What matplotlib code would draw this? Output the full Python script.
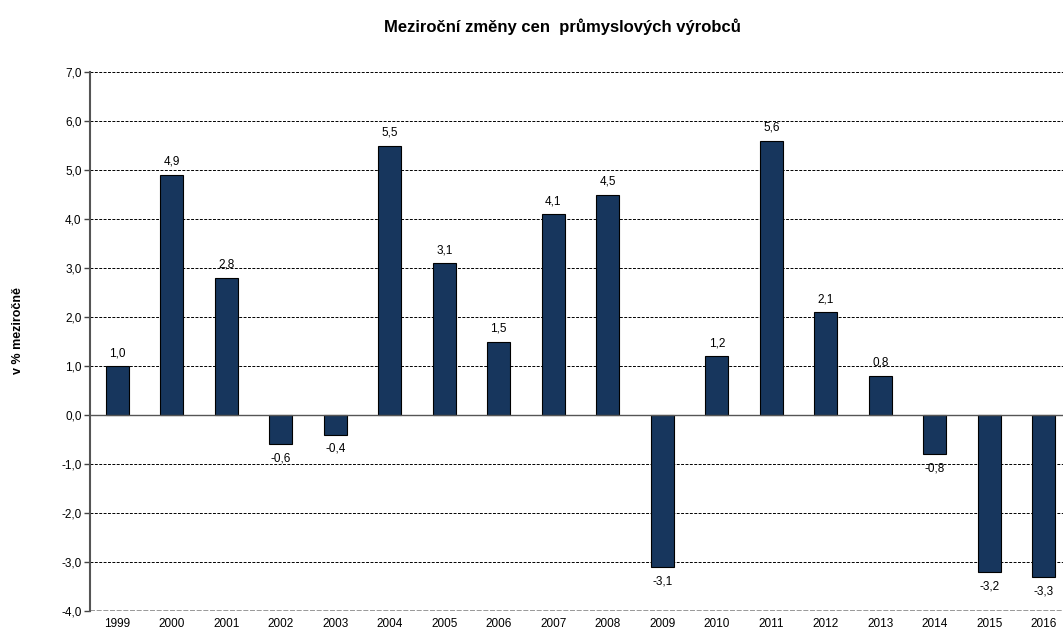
import matplotlib.pyplot as plt
import numpy as np

plt.rcParams['font.family'] = ['Liberation Sans', 'DejaVu Sans']

# Data
roky = ['1999', '2000', '2001', '2002', '2003', '2004', '2005', '2006', '2007',
        '2008', '2009', '2010', '2011', '2012', '2013', '2014', '2015', '2016']
zmeny = [1.0, 4.9, 2.8, -0.6, -0.4, 5.5, 3.1, 1.5, 4.1,
         4.5, -3.1, 1.2, 5.6, 2.1, 0.8, -0.8, -3.2, -3.3]
yticks = [-4, -3, -2, -1, 0, 1, 2, 3, 4, 5, 6, 7]

fig = plt.figure(figsize=(10.63, 6.3), dpi=100)
ax = fig.add_axes([90/1063, 1-611/630, 981/1063, (611-72)/630])

x = np.arange(len(roky))
ax.bar(x, zmeny, width=0.42, color='#17365d', edgecolor='black', linewidth=0.8, zorder=3)

ax.set_xlim(-0.5, len(roky)-0.5)
ax.set_ylim(-4, 7)
ax.set_yticks(yticks)
ax.set_yticklabels([f'{v:.1f}'.replace('.', ',') for v in yticks], fontsize=8.5)
ax.set_xticks(x)
ax.set_xticklabels(roky, fontsize=8.5)
ax.tick_params(axis='x', length=0, pad=5)
ax.tick_params(axis='y', length=4, width=1, color='#444444', pad=2)

# mrizka
for v in yticks:
    if v != 0 and v != -4:
        ax.axhline(v, color='black', linestyle=(0, (3, 1.5)), linewidth=0.7, zorder=1)
ax.axhline(-4, color='#888888', linestyle=(0, (3, 1)), linewidth=1.2, zorder=1)
ax.axhline(0, color='#555555', linewidth=1.0, zorder=4)

for s in ['top', 'right', 'bottom']:
    ax.spines[s].set_visible(False)
ax.spines['left'].set_color('#555555')
ax.spines['left'].set_linewidth(1.5)

# popisky hodnot
for xi, v in zip(x, zmeny):
    txt = f'{v:.1f}'.replace('.', ',')
    if v >= 0:
        ax.annotate(txt, (xi, v), xytext=(0, 5), textcoords='offset points',
                    ha='center', va='bottom', fontsize=8.5)
    else:
        ax.annotate(txt, (xi, v), xytext=(0, -6), textcoords='offset points',
                    ha='center', va='top', fontsize=8.5)

ax.set_ylabel('v % meziročně', fontsize=9, fontweight='bold')
ax.yaxis.set_label_coords(-66/981, 0.52)

fig.text(562/1063, 1-27/630, 'Meziroční změny cen  průmyslových výrobců',
         ha='center', va='center', fontsize=12, fontweight='bold')

fig.savefig('out.png', dpi=100)
